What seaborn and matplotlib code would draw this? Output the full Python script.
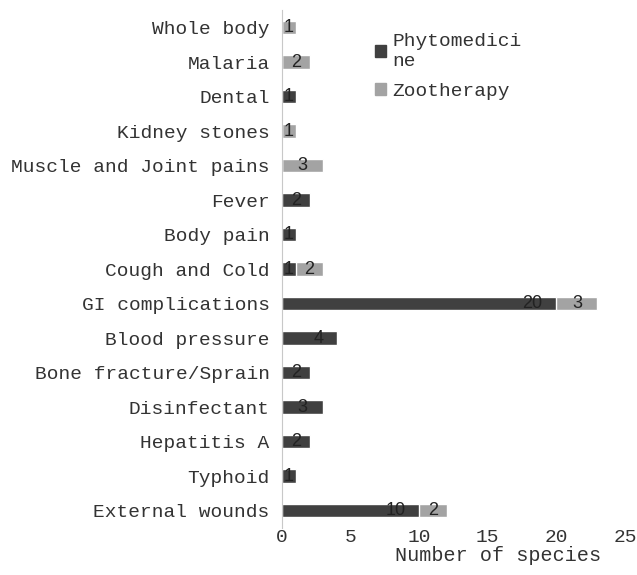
import matplotlib
matplotlib.use("Agg")
import matplotlib.pyplot as plt
import seaborn as sns
from matplotlib.patches import Patch

categories = ["Whole body", "Malaria", "Dental", "Kidney stones",
              "Muscle and Joint pains", "Fever", "Body pain", "Cough and Cold",
              "GI complications", "Blood pressure", "Bone fracture/Sprain",
              "Disinfectant", "Hepatitis A", "Typhoid", "External wounds"]
phyto = [0, 0, 1, 0, 0, 2, 1, 1, 20, 4, 2, 3, 2, 1, 10]
zoo = [1, 2, 0, 1, 3, 0, 0, 2, 3, 0, 0, 0, 0, 0, 2]

dark = "#404040"
light = "#a3a3a3"
txt = "#333333"

sns.set_style("white")
plt.rcParams["font.family"] = ["Liberation Mono", "DejaVu Sans Mono"]

total = [p + z for p, z in zip(phyto, zoo)]

fig = plt.figure(figsize=(6.37, 5.75), dpi=100)
ax = fig.add_axes([0.443, 0.082, 0.538, 0.9])

sns.barplot(x=total, y=categories, color=light, width=0.39, saturation=1, ax=ax, orient="h")
sns.barplot(x=phyto, y=categories, color=dark, width=0.39, saturation=1, ax=ax, orient="h")


def put_label(val, left, row):
    # small segments: centred, larger: near the inside end
    if val <= 3:
        ax.text(left + val / 2, row, str(val), ha="center", va="center",
                fontsize=13, color="#222222", family="Liberation Sans")
    else:
        ax.annotate(str(val), (left + val, row), xytext=(-10, 0),
                    textcoords="offset points", ha="right", va="center",
                    fontsize=13, color="#222222", family="Liberation Sans")


for i, (p, z) in enumerate(zip(phyto, zoo)):
    if p > 0:
        put_label(p, 0, i)
    if z > 0:
        put_label(z, p, i)

ax.set_xlim(0, 25)
ax.set_xticks([0, 5, 10, 15, 20, 25])
ax.tick_params(axis="both", length=0, labelsize=14, colors=txt)
ax.tick_params(axis="y", pad=9)
ax.tick_params(axis="x", pad=1)
ax.set_xlabel("Number of species", fontsize=14.5, color=txt, x=0.63, labelpad=0)
ax.set_ylabel("")

for s in ["top", "right", "bottom"]:
    ax.spines[s].set_visible(False)
ax.spines["left"].set_color("#c8c8c8")

handles = [Patch(color=dark, label="Phytomedici\nne"),
           Patch(color=light, label="Zootherapy")]
ax.legend(handles=handles, loc="upper left", bbox_to_anchor=(0.22, 0.99),
          frameon=False, fontsize=14, handlelength=0.55, handleheight=0.55,
          handletextpad=0.35, labelcolor=txt, labelspacing=0.7)

plt.savefig("out.png", dpi=100)
